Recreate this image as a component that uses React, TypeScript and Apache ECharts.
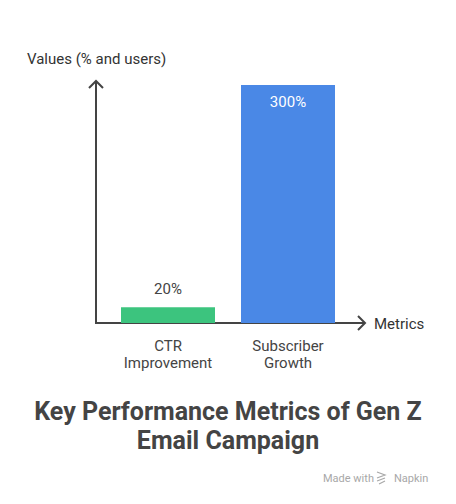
import React, { useEffect, useRef } from "react";
import * as echarts from "echarts";

const categories = ["CTR\nImprovement", "Subscriber\nGrowth"];
const values = [20, 300];
const valueLabels = ["20%", "300%"];
const barColors = ["#3CC47E", "#4A88E6"];
const yAxisName = "Values (% and users)";
const xAxisName = "Metrics";
const titleLines = "Key Performance Metrics of Gen Z\nEmail Campaign";

export default function App() {
  const ref = useRef<HTMLDivElement>(null);
  useEffect(() => {
    if (!ref.current) return;
    const chart = echarts.init(ref.current, null, { renderer: "svg" });
    const axisColor = "#444444";
    const font = "Roboto, 'Noto Sans', sans-serif";
    const wm = "#a8a8a8";
    chart.setOption({
      animation: false,
      backgroundColor: "#ffffff",
      grid: { left: 108, width: 240, top: 85, height: 238 },
      xAxis: {
        type: "category",
        data: categories,
        axisLine: { show: false },
        axisTick: { show: false },
        axisLabel: {
          color: "#444444",
          fontSize: 15,
          lineHeight: 17,
          margin: 14,
          fontFamily: font,
        },
      },
      yAxis: {
        type: "value",
        min: 0,
        max: 300,
        show: false,
      },
      series: [
        {
          type: "bar",
          barWidth: 94,
          data: values.map((v, i) => ({
            value: v,
            itemStyle: { color: barColors[i] },
            label: {
              show: true,
              formatter: valueLabels[i],
              position: i === 1 ? "insideTop" : "top",
              distance: i === 1 ? 9 : 11,
              color: i === 1 ? "#ffffff" : "#444444",
              fontSize: 15,
              fontFamily: font,
            },
          })),
        },
      ],
      graphic: [
        { type: "line", shape: { x1: 96, y1: 81, x2: 96, y2: 324 }, style: { stroke: axisColor, lineWidth: 2 } },
        { type: "line", shape: { x1: 95, y1: 323, x2: 365, y2: 323 }, style: { stroke: axisColor, lineWidth: 2 } },
        { type: "polyline", shape: { points: [[89, 88], [96, 81], [103, 88]] }, style: { stroke: axisColor, lineWidth: 2, fill: "none" } },
        { type: "polyline", shape: { points: [[358, 316], [365, 323], [358, 330]] }, style: { stroke: axisColor, lineWidth: 2, fill: "none" } },
        { type: "text", x: 27, y: 59, style: { text: yAxisName, fill: "#333333", fontSize: 15, fontFamily: font, verticalAlign: "middle" } },
        { type: "text", x: 374, y: 324, style: { text: xAxisName, fill: "#333333", fontSize: 15, fontFamily: font, verticalAlign: "middle" } },
        {
          type: "text",
          x: 228,
          y: 426,
          style: {
            text: titleLines,
            fill: "#444444",
            fontSize: 25,
            fontWeight: "bold",
            lineHeight: 29,
            fontFamily: font,
            align: "center",
            verticalAlign: "middle",
          },
        },
        { type: "text", x: 323, y: 478, style: { text: "Made with", fill: wm, fontSize: 11, fontFamily: font, verticalAlign: "middle" } },
        { type: "polyline", shape: { points: [[377, 472], [385, 475], [377, 478]] }, style: { stroke: wm, lineWidth: 1.2, fill: "none" } },
        { type: "line", shape: { x1: 377, y1: 481, x2: 385, y2: 478 }, style: { stroke: wm, lineWidth: 1.2 } },
        { type: "line", shape: { x1: 379, y1: 484, x2: 385, y2: 481 }, style: { stroke: wm, lineWidth: 1.2 } },
        { type: "text", x: 394, y: 478, style: { text: "Napkin", fill: wm, fontSize: 11, fontFamily: font, verticalAlign: "middle" } },
      ],
    });
    return () => chart.dispose();
  }, []);
  return <div ref={ref} style={{ position: "fixed", left: 0, top: 0, width: 456, height: 504 }} />;
}
